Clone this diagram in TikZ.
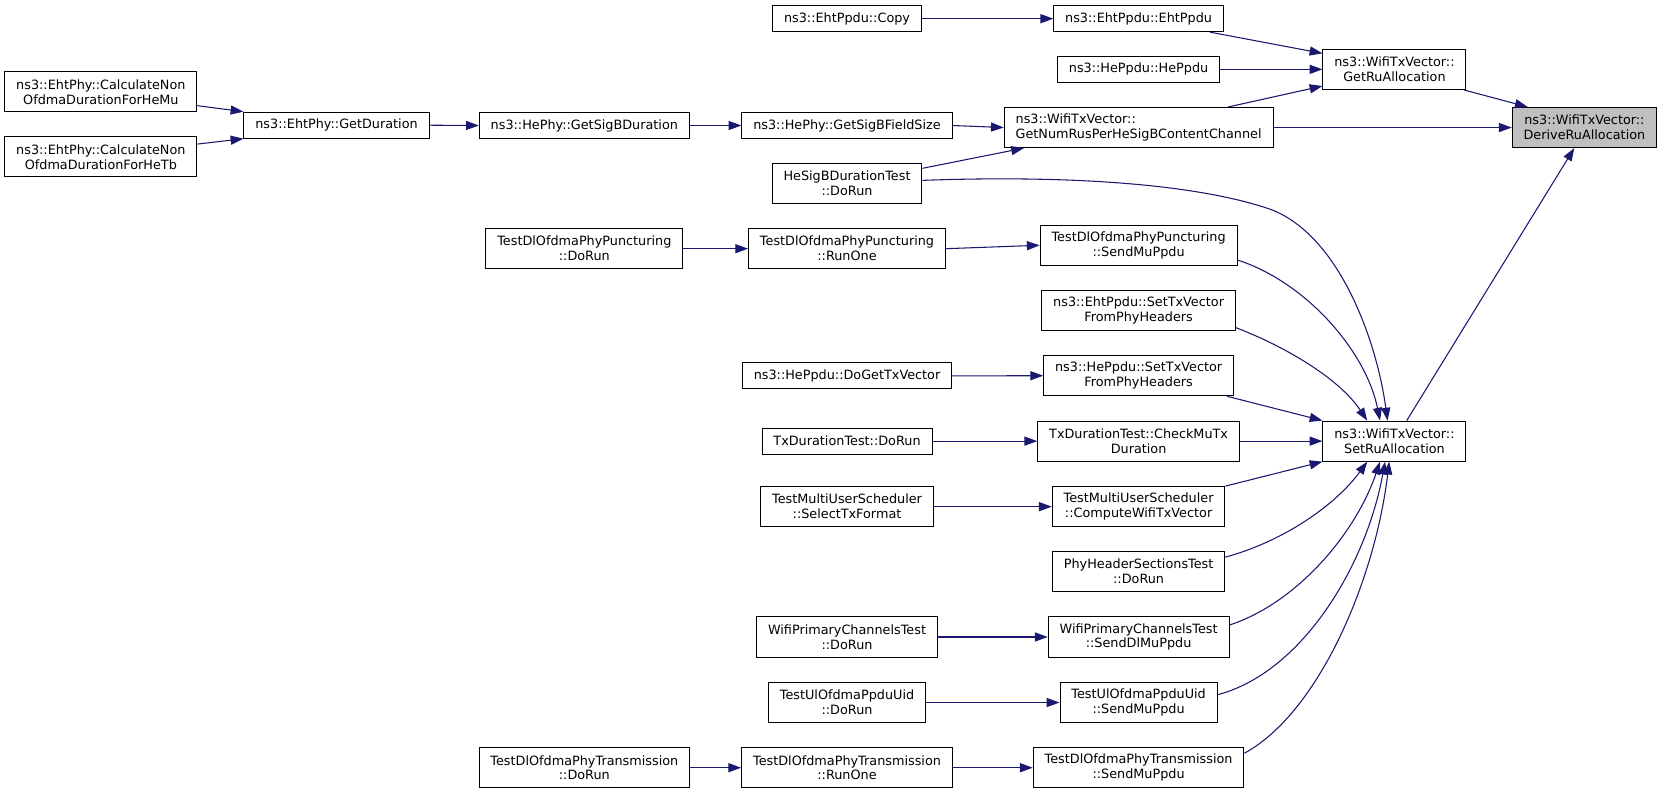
\documentclass[tikz,border=0pt]{standalone}
\usepackage{fontspec}
\setmainfont{DejaVu Sans}
\usetikzlibrary{arrows.meta}
\definecolor{edgeblue}{HTML}{191970}
\definecolor{rootgray}{HTML}{BFBFBF}
\tikzset{
  box/.style={draw=black, line width=0.9pt, fill=white, inner xsep=10.7pt, inner ysep=0pt,
    align=center, font=\fontsize{12}{14}\selectfont},
  one/.style={box, minimum height=24.4pt},
  two/.style={box, minimum height=37.6pt},
  rootbox/.style={two, fill=rootgray},
  call/.style={draw=edgeblue, line width=1pt, -{Triangle[length=12pt,width=8.5pt]}}
}
\begin{document}
\begin{tikzpicture}[x=1pt,y=-1pt]
\useasboundingbox (0,0) rectangle (1560,744);
% columns: 94.5, 315.3, 547.5, 793.6, 1066.8, 1306.5, 1484.5
\node[one] (copy) at (793.6,17.5) {ns3::EhtPpdu::Copy};
\node[one] (ehtppdu) at (1066.8,17.5) {ns3::EhtPpdu::EhtPpdu};
\node[one] (heppdu) at (1066.8,65) {ns3::HePpdu::HePpdu};
\node[two] (getru) at (1306.5,65) {ns3::WifiTxVector::\\GetRuAllocation};
\node[rootbox] (derive) at (1484.5,119.5) {ns3::WifiTxVector::\\DeriveRuAllocation};
\node[two] (calcmu) at (94.5,86) {ns3::EhtPhy::CalculateNon\\OfdmaDurationForHeMu};
\node[two] (calctb) at (94.5,147) {ns3::EhtPhy::CalculateNon\\OfdmaDurationForHeTb};
\node[one] (getdur) at (315.3,117.3) {ns3::EhtPhy::GetDuration};
\node[one] (sigbdur) at (547.5,117.6) {ns3::HePhy::GetSigBDuration};
\node[one] (sigbsize) at (793.6,117.6) {ns3::HePhy::GetSigBFieldSize};
\node[two, align=left] (numrus) at (1066.8,119.5) {ns3::WifiTxVector::\\GetNumRusPerHeSigBContentChannel};
\node[two] (hesigb) at (793.6,172) {HeSigBDurationTest\\::DoRun};
\node[two] (pdorun) at (547.5,233) {TestDlOfdmaPhyPuncturing\\::DoRun};
\node[two] (prunone) at (793.6,233) {TestDlOfdmaPhyPuncturing\\::RunOne};
\node[two] (psend) at (1066.8,229.8) {TestDlOfdmaPhyPuncturing\\::SendMuPpdu};
\node[two] (ehtset) at (1066.8,291) {ns3::EhtPpdu::SetTxVector\\FromPhyHeaders};
\node[one] (dogettx) at (793.6,352.2) {ns3::HePpdu::DoGetTxVector};
\node[two] (heset) at (1066.8,352) {ns3::HePpdu::SetTxVector\\FromPhyHeaders};
\node[one] (txdorun) at (793.6,413.3) {TxDurationTest::DoRun};
\node[two] (checkmu) at (1066.8,413.3) {TxDurationTest::CheckMuTx\\Duration};
\node[two] (setru) at (1306.5,413.3) {ns3::WifiTxVector::\\SetRuAllocation};
\node[two] (selecttx) at (793.6,474.7) {TestMultiUserScheduler\\::SelectTxFormat};
\node[two] (compute) at (1066.8,474.7) {TestMultiUserScheduler\\::ComputeWifiTxVector};
\node[two] (phyhdr) at (1066.8,535.5) {PhyHeaderSectionsTest\\::DoRun};
\node[two] (wpdorun) at (793.6,596.8) {WifiPrimaryChannelsTest\\::DoRun};
\node[two] (wpsend) at (1066.8,596.8) {WifiPrimaryChannelsTest\\::SendDlMuPpdu};
\node[two] (uldorun) at (793.6,658.2) {TestUlOfdmaPpduUid\\::DoRun};
\node[two] (ulsend) at (1066.8,658.2) {TestUlOfdmaPpduUid\\::SendMuPpdu};
\node[two] (tdorun) at (547.5,719.3) {TestDlOfdmaPhyTransmission\\::DoRun};
\node[two] (trunone) at (793.6,719.3) {TestDlOfdmaPhyTransmission\\::RunOne};
\node[two] (tsend) at (1066.8,719.3) {TestDlOfdmaPhyTransmission\\::SendMuPpdu};
% edges
\draw[call] (copy.east) -- (ehtppdu.west);
\draw[call] ([xshift=67pt]ehtppdu.south) -- ([yshift=15pt]getru.west);
\draw[call] (heppdu.east) -- (getru.west);
\draw[call] ([xshift=83.8pt]numrus.north) -- ([yshift=-15.6pt]getru.west);
\draw[call] ([xshift=65pt]getru.south) -- ([xshift=15pt]derive.north west);
\draw[call] (numrus.east) -- (derive.west);
\draw[call] ([xshift=11.5pt]setru.north) -- ([xshift=-9.5pt]derive.south);
\draw[call] ([yshift=-13pt]calcmu.east) -- (getdur.north west);
\draw[call] ([yshift=12pt]calctb.east) -- (getdur.south west);
\draw[call] (getdur.east) -- (sigbdur.west);
\draw[call] (sigbdur.east) -- (sigbsize.west);
\draw[call] (sigbsize.east) -- (numrus.west);
\draw[call] ([yshift=14.3pt]hesigb.east) -- ([xshift=-107.4pt]numrus.south);
\draw[call] ([yshift=3pt]hesigb.east) .. controls (1000,164) and (1120,172) .. (1190,196) .. controls (1255,220) and (1290,320) .. ([xshift=-6.5pt]setru.north);
\draw[call] (pdorun.east) -- (prunone.west);
\draw[call] (prunone.east) -- (psend.west);
\draw[call] ([yshift=-13.8pt]psend.east) .. controls (1225,265) and (1280,330) .. ([xshift=-13.5pt]setru.north);
\draw[call] ([yshift=-16pt]ehtset.east) .. controls (1205,325) and (1255,355) .. ([xshift=-25.5pt]setru.north);
\draw[call] (dogettx.east) -- (heset.west);
\draw[call] ([xshift=82.7pt]heset.south) -- (setru.north west);
\draw[call] (txdorun.east) -- (checkmu.west);
\draw[call] (checkmu.east) -- (setru.west);
\draw[call] (selecttx.east) -- (compute.west);
\draw[call] (compute.north east) -- (setru.south west);
\draw[call] ([yshift=13.5pt]phyhdr.east) .. controls (1200,508) and (1250,475) .. ([xshift=-25.5pt]setru.south);
\draw[call] (wpdorun.east) -- (wpsend.west);
\draw[call] ([yshift=11.2pt]wpsend.east) .. controls (1215,565) and (1270,500) .. ([xshift=-13.5pt]setru.south);
\draw[call] (uldorun.east) -- (ulsend.west);
\draw[call] ([yshift=7.3pt]ulsend.east) .. controls (1220,630) and (1280,530) .. ([xshift=-8.8pt]setru.south);
\draw[call] (tdorun.east) -- (trunone.west);
\draw[call] (trunone.east) -- (tsend.west);
\draw[call] ([yshift=13.6pt]tsend.east) .. controls (1235,668) and (1288,545) .. ([xshift=-4.9pt]setru.south);
\end{tikzpicture}
\end{document}
